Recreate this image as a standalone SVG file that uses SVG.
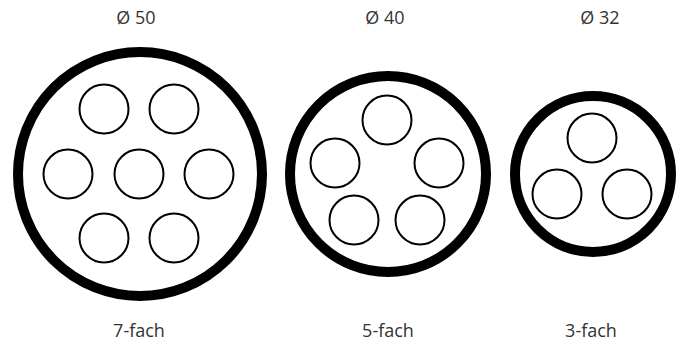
<svg xmlns="http://www.w3.org/2000/svg" width="681" height="344" viewBox="0 0 681 344">
<style>
.outer{fill:#fff;stroke:#000;stroke-width:10}
.core{fill:#fff;stroke:#000;stroke-width:2}
.t{font-family:"Open Sans","Liberation Sans",sans-serif;font-size:18px;fill:#333;text-anchor:middle}
</style>
<rect width="681" height="344" fill="#fff"/>
<g id="cable7">
<circle class="outer" cx="140" cy="174" r="122"/>
<circle class="core" cx="104" cy="109" r="24.5"/>
<circle class="core" cx="174" cy="109" r="24.5"/>
<circle class="core" cx="68" cy="174" r="24.5"/>
<circle class="core" cx="139" cy="174" r="24.5"/>
<circle class="core" cx="209" cy="174" r="24.5"/>
<circle class="core" cx="104" cy="238" r="24.5"/>
<circle class="core" cx="174" cy="238" r="24.5"/>
<text class="t" x="136" y="24">Ø 50</text>
<text class="t" x="139" y="337">7-fach</text>
</g>
<g id="cable5">
<circle class="outer" cx="388" cy="174" r="98"/>
<circle class="core" cx="387" cy="120" r="24.5"/>
<circle class="core" cx="335" cy="163" r="24.5"/>
<circle class="core" cx="439" cy="163" r="24.5"/>
<circle class="core" cx="354" cy="220" r="24.5"/>
<circle class="core" cx="420" cy="220" r="24.5"/>
<text class="t" x="385" y="24">Ø 40</text>
<text class="t" x="388" y="337">5-fach</text>
</g>
<g id="cable3">
<circle class="outer" cx="593" cy="174" r="78"/>
<circle class="core" cx="592" cy="138" r="24.5"/>
<circle class="core" cx="557" cy="194" r="24.5"/>
<circle class="core" cx="627" cy="194" r="24.5"/>
<text class="t" x="600" y="24">Ø 32</text>
<text class="t" x="591" y="337">3-fach</text>
</g>
<g id="connectors"/>
</svg>
